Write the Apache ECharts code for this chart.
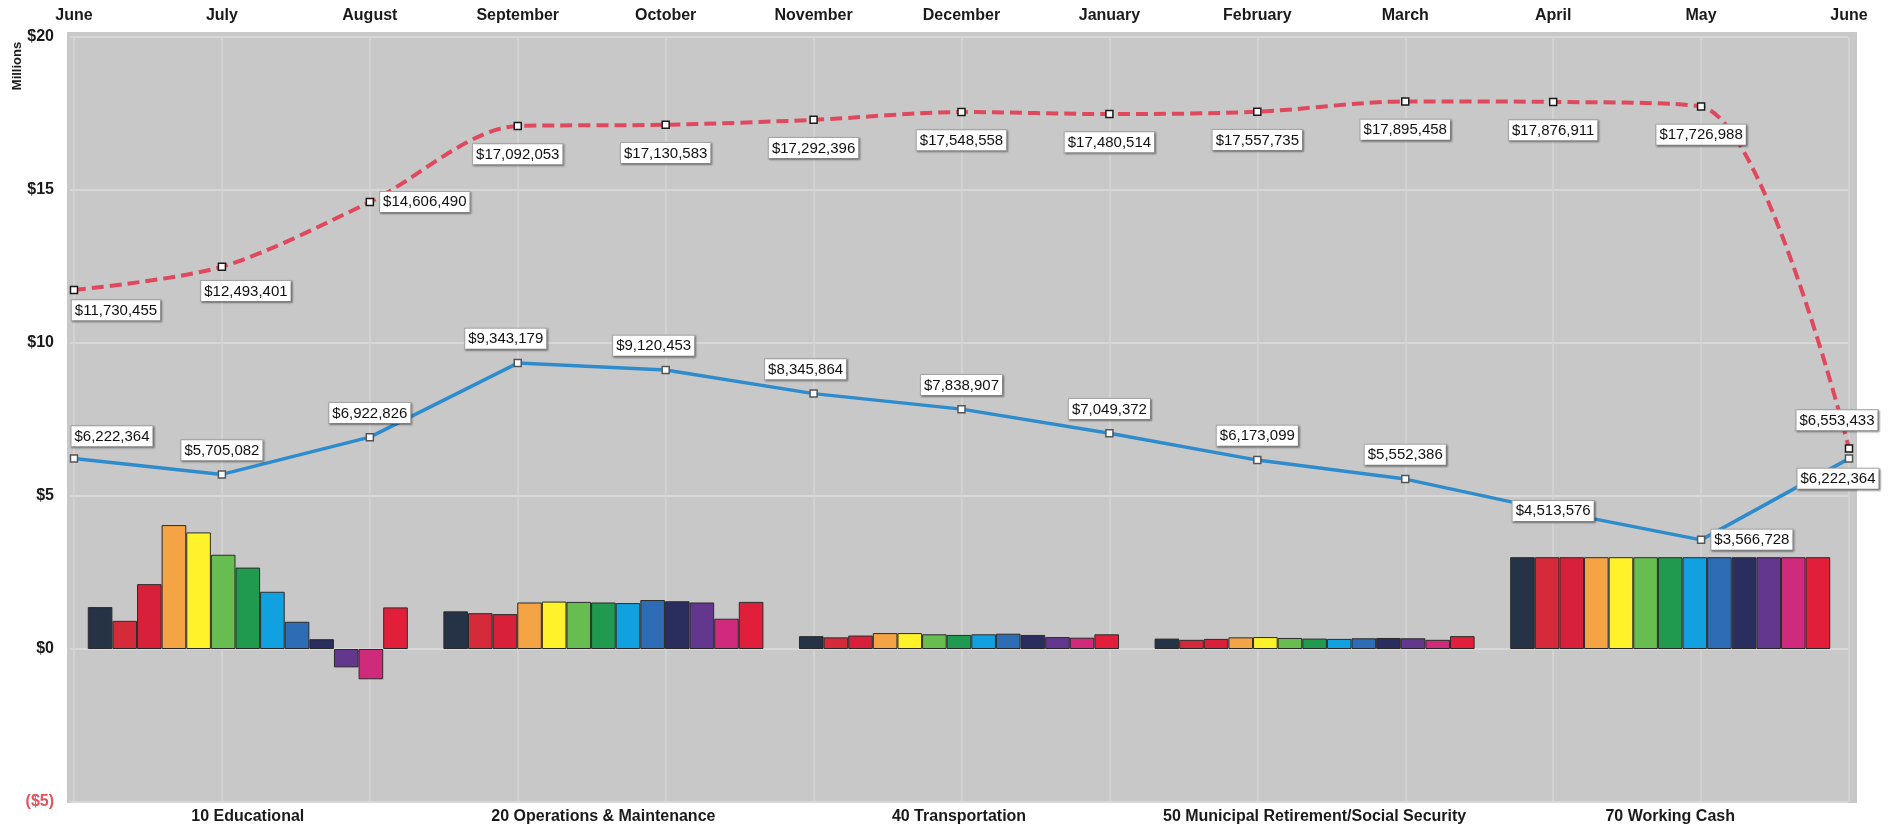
<!DOCTYPE html>
<html>
<head>
<meta charset="utf-8">
<title>Fund Balances</title>
<script src="https://cdn.jsdelivr.net/npm/echarts@6/dist/echarts.min.js"></script>
<style>
  html, body { margin: 0; padding: 0; background: #ffffff; }
  #chart { width: 1891px; height: 829px; }
</style>
</head>
<body>
<div id="chart"></div>
<script>
// Month ticks along the top axis
const months = ['June', 'July', 'August', 'September', 'October', 'November', 'December',
  'January', 'February', 'March', 'April', 'May', 'June'];

// Fund categories along the bottom axis
const funds = ['10 Educational', '20 Operations & Maintenance', '40 Transportation',
  '50 Municipal Retirement/Social Security', '70 Working Cash'];

// Monthly fund balances, in millions (one value per month)
const educational    = [1.37, 0.92, 2.12, 4.05, 3.81, 3.08, 2.66, 1.87, 0.89, 0.32, -0.60, -0.99, 1.36];
const opsMaintenance = [1.23, 1.17, 1.14, 1.52, 1.55, 1.54, 1.52, 1.50, 1.60, 1.56, 1.52, 0.99, 1.54];
const transportation = [0.42, 0.38, 0.44, 0.52, 0.52, 0.48, 0.46, 0.48, 0.50, 0.46, 0.39, 0.37, 0.48];
const imrfSocSec     = [0.34, 0.30, 0.33, 0.38, 0.39, 0.36, 0.34, 0.33, 0.35, 0.36, 0.35, 0.30, 0.42];
const workingCash    = [3.00, 3.00, 3.00, 3.00, 3.00, 3.00, 3.00, 3.00, 3.00, 3.00, 3.00, 3.00, 3.00];

// Total balances (dollars)
const totalPrior   = [11730455, 12493401, 14606490, 17092053, 17130583, 17292396, 17548558,
  17480514, 17557735, 17895458, 17876911, 17726988, 6553433];
const totalCurrent = [6222364, 5705082, 6922826, 9343179, 9120453, 8345864, 7838907,
  7049372, 6173099, 5552386, 4513576, 3566728, 6222364];

// Y axis ticks (millions)
const yMin = -5, yMax = 20, yStep = 5;

const monthColors = ['#263246', '#d42a3a', '#d8203a', '#f4a345', '#fff12a', '#67bd50', '#1f9a4e',
  '#11a0e0', '#2e6cb5', '#2a2e5e', '#64378f', '#d02a7c', '#e21f3a'];

const fundRows = [educational, opsMaintenance, transportation, imrfSocSec, workingCash];

const fontFamily = '"Liberation Sans", Arial, sans-serif';
const money = v => '$' + Math.round(v).toLocaleString('en-US');

// One bar series per month, spread across the five funds
const barSeries = months.map((m, i) => ({
  type: 'bar',
  name: m + ' ' + i,
  xAxisIndex: 1,
  yAxisIndex: 1,
  barGap: '0%',
  barCategoryGap: '10%',
  silent: true,
  itemStyle: { color: monthColors[i], borderColor: '#2b2b2b', borderWidth: 1 },
  data: fundRows.map(row => row[i])
}));

const labelBox = {
  show: true,
  fontFamily: fontFamily,
  fontSize: 15,
  color: '#111',
  backgroundColor: '#ffffff',
  borderColor: '#a8a8a8',
  borderWidth: 1,
  padding: [3, 3, 2, 3],
  shadowColor: 'rgba(0,0,0,0.35)',
  shadowBlur: 2,
  shadowOffsetX: 1,
  shadowOffsetY: 1,
  formatter: p => money(p.value * 1e6)
};

// Label placement tweaks per point
const priorLabelPlacement = {
  0: { position: 'bottom', distance: 6, offset: [42, 0] },
  1: { position: 'bottom', distance: 10, offset: [24, 0] },
  2: { position: 'right', distance: 6 },
  12: { position: 'top', distance: 14, offset: [-12, 0] }
};
const currentLabelPlacement = {
  0: { position: 'top', distance: 8, offset: [38, 0] },
  3: { position: 'top', distance: 10, offset: [-12, 0] },
  4: { position: 'top', distance: 10, offset: [-12, 0] },
  5: { position: 'top', distance: 10, offset: [-8, 0] },
  10: { position: 'inside' },
  11: { position: 'right', distance: 6 },
  12: { position: 'bottom', distance: 6, offset: [-11, 0] }
};

function lineData(values, placement) {
  return values.map((v, i) => {
    const item = { value: v / 1e6 };
    if (placement[i]) item.label = placement[i];
    return item;
  });
}

const option = {
  animation: false,
  backgroundColor: '#ffffff',
  textStyle: { fontFamily: fontFamily },
  graphic: [{
    type: 'text',
    x: 17,
    y: 66,
    rotation: Math.PI / 2,
    style: {
      text: 'Millions',
      fontFamily: fontFamily,
      fontWeight: 'bold',
      fontSize: 13,
      fill: '#1a1a1a',
      align: 'center',
      verticalAlign: 'middle'
    }
  }],
  grid: [
    { left: 67, right: 34, top: 32, bottom: 26, show: true, backgroundColor: '#c8c8c8', borderWidth: 0 },
    { left: 70, right: 43, top: 37, bottom: 27 },
    { left: 74, right: 42, top: 37, bottom: 27 }
  ],
  xAxis: [
    { gridIndex: 0, type: 'value', show: false },
    {
      gridIndex: 1, type: 'category', data: funds, position: 'bottom',
      axisLine: { show: false }, axisTick: { show: false },
      axisLabel: { interval: 0, fontFamily: fontFamily, fontWeight: 'bold', fontSize: 16, color: '#1a1a1a', margin: 7 },
      splitLine: { show: false }
    },
    {
      gridIndex: 2, type: 'category', data: months, position: 'top', boundaryGap: false,
      axisLine: { show: false }, axisTick: { show: false },
      axisLabel: { interval: 0, fontFamily: fontFamily, fontWeight: 'bold', fontSize: 16, color: '#1a1a1a', margin: 13 },
      splitLine: { show: true, interval: 0, lineStyle: { color: '#d6d6d6', width: 1.5 } }
    }
  ],
  yAxis: [
    { gridIndex: 0, type: 'value', show: false },
    {
      gridIndex: 1, type: 'value', min: yMin, max: yMax, interval: yStep,
      axisLine: { show: false }, axisTick: { show: false },
      axisLabel: {
        fontFamily: fontFamily, fontWeight: 'bold', fontSize: 16, margin: 16,
        color: v => (v < 0 ? '#e8505b' : '#1a1a1a'),
        formatter: v => (v < 0 ? '($' + Math.abs(v) + ')' : '$' + v)
      },
      splitLine: { show: true, lineStyle: { color: '#d8d8d8', width: 2 } }
    },
    { gridIndex: 2, type: 'value', min: yMin, max: yMax, interval: yStep, show: false, splitLine: { show: false } }
  ],
  series: barSeries.concat([
    {
      type: 'line',
      name: 'Prior',
      xAxisIndex: 2,
      yAxisIndex: 2,
      smooth: 0.3,
      z: 5,
      symbol: 'rect',
      symbolSize: 7,
      itemStyle: { color: '#ffffff', borderColor: '#1a1a1a', borderWidth: 1.5 },
      lineStyle: { color: '#e0485e', width: 4, type: [12, 6] },
      label: Object.assign({}, labelBox, { position: 'bottom', distance: 14 }),
      data: lineData(totalPrior, priorLabelPlacement)
    },
    {
      type: 'line',
      name: 'Current',
      xAxisIndex: 2,
      yAxisIndex: 2,
      z: 6,
      symbol: 'rect',
      symbolSize: 7,
      itemStyle: { color: '#ffffff', borderColor: '#555555', borderWidth: 1.5 },
      lineStyle: { color: '#2f8ccc', width: 3.5 },
      label: Object.assign({}, labelBox, { position: 'top', distance: 10 }),
      data: lineData(totalCurrent, currentLabelPlacement)
    }
  ])
};

const chart = echarts.init(document.getElementById('chart'));
chart.setOption(option);
</script>
</body>
</html>
